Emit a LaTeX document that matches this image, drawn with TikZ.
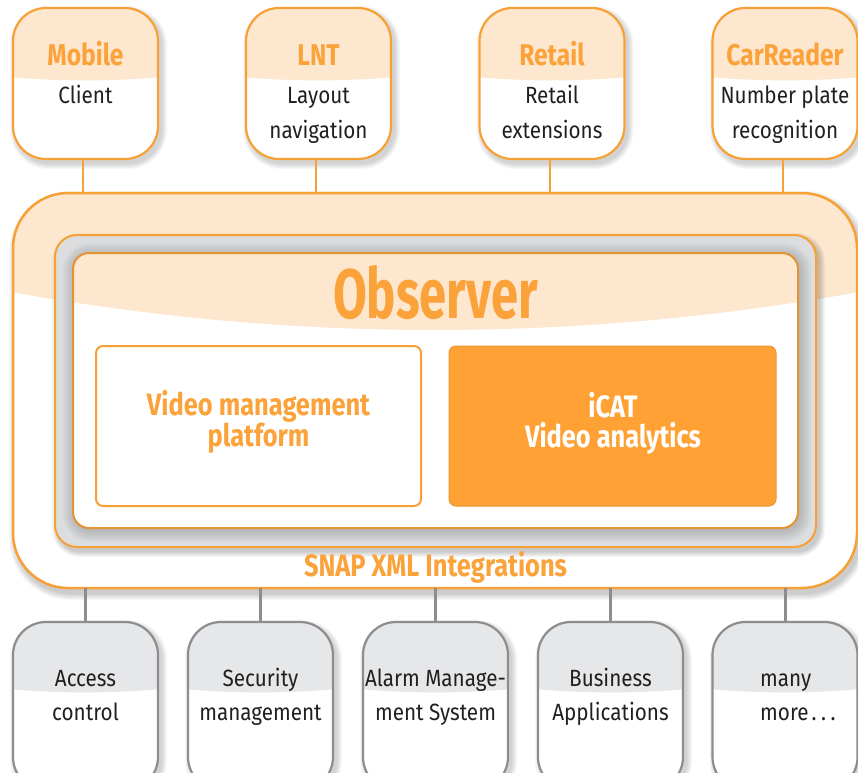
\documentclass[tikz,border=0pt]{standalone}
\usepackage{fontspec}
\setmainfont{Fira Sans}[FakeStretch=0.88]
\newfontfamily\titlefont{Fira Sans}[FakeStretch=0.82]
\newfontfamily\obsfont{Fira Sans}[FakeStretch=0.70]
\definecolor{oline}{HTML}{F7A035}
\definecolor{otext}{HTML}{FBA23A}
\definecolor{peach}{HTML}{FDE7CE}
\definecolor{icat}{HTML}{FFA134}
\definecolor{gline}{HTML}{8C8D8F}
\definecolor{gfill}{HTML}{E6E7E8}
\definecolor{tdark}{HTML}{231F20}
\definecolor{ring}{HTML}{DCDDDF}
% layered soft shadow: node, corner radius, dx, dy, steps, opacity per step, growth per step
\newcommand\softshadowbox[7]{%
  \foreach \i in {1,...,#5} {%
    \pgfmathsetmacro\rr{#2+#7*\i}%
    \pgfmathsetmacro\gg{#7*\i}%
    \fill[black, opacity=#6, rounded corners=\rr pt]
      ([shift={(#3-\gg,#4-\gg)}]#1.north west) rectangle ([shift={(#3+\gg,#4+\gg)}]#1.south east);}}
\begin{document}
\begin{tikzpicture}[x=1pt,y=-1pt,
  frame/.style={inner sep=0pt, outer sep=0pt},
  topbox/.style={frame, minimum width=145pt, minimum height=151pt},
  botbox/.style={frame, minimum width=145pt, minimum height=168pt},
  titlet/.style={font=\fontsize{30}{36}\selectfont\titlefont\bfseries, text=otext, inner sep=0pt},
  subt/.style={font=\fontsize{23.5}{28}\selectfont, text=tdark, inner sep=0pt},
  midt/.style={font=\fontsize{31}{36}\selectfont\titlefont\bfseries, inner sep=0pt},
  topline/.style={draw=oline, line width=2pt},
  botline/.style={draw=gline, line width=3pt}
]
\useasboundingbox (0,0) rectangle (858,772);
% band curve coordinates
\coordinate (bA) at (0,150);
\coordinate (bB) at (0,290);
\coordinate (bC) at (290,343.3);
\coordinate (bD) at (580,343.3);
\coordinate (bE) at (870,290);
\coordinate (bF) at (870,150);

% ---------- top boxes
\node[topbox] (mob) at (85.5,83.5) {};
\node[topbox] (lnt) at (318.5,83.5) {};
\node[topbox] (ret) at (552,83.5) {};
\node[topbox] (car) at (785,83.5) {};
\foreach \b in {mob,lnt,ret,car} {
  \softshadowbox{\b}{33}{3}{4}{6}{0.03}{1}
  \fill[white, rounded corners=33pt] (\b.north west) rectangle (\b.south east);
  \begin{scope}
    \clip[rounded corners=33pt] (\b.north west) rectangle (\b.south east);
    \fill[peach] ([shift={(-3,-5)}]\b.north west) -- ([shift={(-3,69)}]\b.north west)
      .. controls ([shift={(45,73.5)}]\b.north west) and ([shift={(-45,73.5)}]\b.north east)
      .. ([shift={(3,69)}]\b.north east) -- ([shift={(3,-5)}]\b.north east) -- cycle;
  \end{scope}
  \draw[oline, line width=2.2pt, rounded corners=33pt] (\b.north west) rectangle (\b.south east);
}

\node[titlet, anchor=base] (mobT) at (85.5,65) {Mobile};
\node[subt, anchor=base] (mobS) at (85.5,103) {Client};
\node[titlet, anchor=base] (lntT) at (318.5,65) {LNT};
\node[subt, anchor=base] (lntS1) at (318.5,103) {Layout};
\node[subt, anchor=base] (lntS2) at (318.5,138) {navigation};
\node[titlet, anchor=base] (retT) at (552,65) {Retail};
\node[subt, anchor=base] (retS1) at (552,103) {Retail};
\node[subt, anchor=base] (retS2) at (552,138) {extensions};
\node[titlet, anchor=base] (carT) at (785,65) {CarReader};
\node[subt, anchor=base] (carS1) at (785,103) {Number plate};
\node[subt, anchor=base] (carS2) at (785,138) {recognition};

% ---------- outer box
\node[frame, minimum width=844pt, minimum height=395pt] (outer) at (435,390.5) {};
\softshadowbox{outer}{55}{3}{5}{7}{0.03}{1}
\fill[white, rounded corners=55pt] (outer.north west) rectangle (outer.south east);
\begin{scope}
  \clip[rounded corners=55pt] (outer.north west) rectangle (outer.south east);
  \fill[peach] (bA) -- (bB) .. controls (bC) and (bD) .. (bE) -- (bF) -- cycle;
\end{scope}
\draw[oline, line width=2.5pt, rounded corners=55pt] (outer.north west) rectangle (outer.south east);

% ---------- second (framing) box
\node[frame, minimum width=761pt, minimum height=312pt] (second) at (435.5,391) {};
\softshadowbox{second}{22}{3}{4}{6}{0.035}{1}
\fill[ring, rounded corners=22pt] (second.north west) rectangle (second.south east);
\node[frame, minimum width=725pt, minimum height=275pt] (inner) at (435.5,390.5) {};
\begin{scope}
  \clip[rounded corners=22pt] (second.north west) rectangle (second.south east);
  \softshadowbox{inner}{16}{1.5}{2}{8}{0.018}{1.5}
\end{scope}
\draw[oline, line width=2pt, rounded corners=22pt] (second.north west) rectangle (second.south east);

% ---------- inner box
\fill[white, rounded corners=16pt] (inner.north west) rectangle (inner.south east);
\begin{scope}
  \clip[rounded corners=16pt] (inner.north west) rectangle (inner.south east);
  \fill[peach] (bA) -- (bB) .. controls (bC) and (bD) .. (bE) -- (bF) -- cycle;
\end{scope}
\draw[oline!92!black, line width=2pt, rounded corners=16pt] (inner.north west) rectangle (inner.south east);

\node[font=\fontsize{70}{80}\selectfont\obsfont\bfseries, text=otext, inner sep=0pt, anchor=base] (obs) at (435.5,318) {Observer};

\node[frame, draw=oline, line width=2pt, rounded corners=7pt, minimum width=325pt, minimum height=160pt, fill=white] (vmp) at (258.5,426) {};
\node[frame, draw=oline!95!black, line width=1pt, rounded corners=7pt, minimum width=327pt, minimum height=160pt,
  fill=icat] (icat) at (612.5,426) {};

\node[midt, text=otext, anchor=base] (vmp1) at (258.5,415) {Video management};
\node[midt, text=otext, anchor=base] (vmp2) at (258.5,446) {platform};
\node[midt, text=white, anchor=base] (icat1) at (613,417) {iCAT};
\node[midt, text=white, anchor=base] (icat2) at (613,447) {Video analytics};

\node[font=\fontsize{31}{36}\selectfont\titlefont\bfseries, text=otext, inner sep=0pt, anchor=base] (snap) at (435.5,576) {SNAP XML Integrations};

% ---------- bottom boxes
\node[botbox] (acc) at (85.5,706) {};
\node[botbox] (sec) at (260.5,706) {};
\node[botbox] (alm) at (435.5,706) {};
\node[botbox] (bus) at (610.5,706) {};
\node[botbox] (more) at (785,706) {};
\foreach \b in {acc,sec,alm,bus,more} {
  \softshadowbox{\b}{33}{3}{4}{6}{0.03}{1}
  \fill[white, rounded corners=33pt] (\b.north west) rectangle (\b.south east);
  \begin{scope}
    \clip[rounded corners=33pt] (\b.north west) rectangle (\b.south east);
    \fill[gfill] ([shift={(-3,-5)}]\b.north west) -- ([shift={(-3,67)}]\b.north west)
      .. controls ([shift={(45,71.5)}]\b.north west) and ([shift={(-45,71.5)}]\b.north east)
      .. ([shift={(3,67)}]\b.north east) -- ([shift={(3,-5)}]\b.north east) -- cycle;
  \end{scope}
  \draw[gline, line width=2.2pt, rounded corners=33pt] (\b.north west) rectangle (\b.south east);
}

\node[subt, anchor=base] (acc1) at (85.5,686) {Access};
\node[subt, anchor=base] (acc2) at (85.5,720) {control};
\node[subt, anchor=base] (sec1) at (260.5,686) {Security};
\node[subt, anchor=base] (sec2) at (260.5,720) {management};
\node[subt, anchor=base] (alm1) at (435.5,686) {Alarm Manage-};
\node[subt, anchor=base] (alm2) at (435.5,720) {ment System};
\node[subt, anchor=base] (bus1) at (610.5,686) {Business};
\node[subt, anchor=base] (bus2) at (610.5,720) {Applications};
\node[subt, anchor=base west] (more1) at (760,686) {many};
\node[subt, anchor=base west] (more2) at (760,720) {more\kern3pt.\kern4.5pt.\kern4.5pt.};

% ---------- connectors
\foreach \b in {mob,lnt,ret,car}
  \draw[topline] ([xshift=-2.5pt]\b.south) -- ([xshift=-2.5pt]\b.south |- outer.north);
\foreach \b in {acc,sec,alm,bus,more}
  \draw[botline] (\b.north |- outer.south) -- (\b.north);
\end{tikzpicture}
\end{document}
